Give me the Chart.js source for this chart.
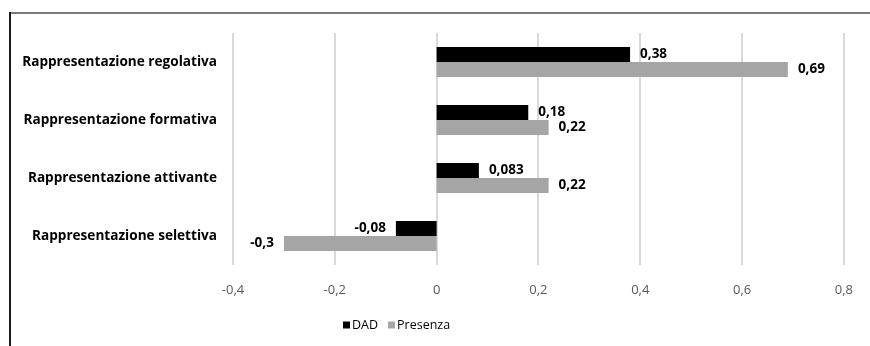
<!DOCTYPE html>
<html>
<head>
<meta charset="utf-8">
<script src="https://cdn.jsdelivr.net/npm/chart.js@4.4.1/dist/chart.umd.min.js"></script>
<style>
  html, body { margin: 0; padding: 0; background: #fff; }
  #wrap { position: relative; width: 870px; height: 346px; }
</style>
</head>
<body>
<div id="wrap"><canvas id="c" width="870" height="346"></canvas></div>
<script>
const categories = [
  'Rappresentazione regolativa',
  'Rappresentazione formativa',
  'Rappresentazione attivante',
  'Rappresentazione selettiva'
];
const dadValues = [0.38, 0.18, 0.083, -0.08];
const presenzaValues = [0.69, 0.22, 0.22, -0.3];
const seriesNames = ['DAD', 'Presenza'];
const seriesColors = ['#000000', '#a5a5a5'];
const axisMin = -0.4, axisMax = 0.8, axisStep = 0.2;

const FONT = '"Open Sans", Lato, sans-serif';
const fmt = v => String(Math.round(v * 1000) / 1000).replace('.', ',');

// Thin frame along the top and left edges of the canvas
const framePlugin = {
  id: 'frame',
  beforeDraw(chart) {
    const ctx = chart.ctx;
    ctx.save();
    ctx.lineWidth = 2;
    ctx.strokeStyle = '#7a7a7a';
    ctx.beginPath();
    ctx.moveTo(9, 13);
    ctx.lineTo(chart.width, 13);
    ctx.stroke();
    ctx.strokeStyle = '#1a1a1a';
    ctx.beginPath();
    ctx.moveTo(10, 12);
    ctx.lineTo(10, chart.height);
    ctx.stroke();
    ctx.restore();
  }
};

// Value labels at the end of each bar
const valueLabels = {
  id: 'valueLabels',
  afterDatasetsDraw(chart) {
    const ctx = chart.ctx;
    ctx.save();
    ctx.font = 'bold 13.5px ' + FONT;
    ctx.fillStyle = '#000';
    ctx.textBaseline = 'middle';
    chart.data.datasets.forEach((ds, di) => {
      const meta = chart.getDatasetMeta(di);
      meta.data.forEach((bar, i) => {
        const v = ds.data[i];
        const txt = fmt(v);
        if (v >= 0) {
          ctx.textAlign = 'left';
          ctx.fillText(txt, bar.x + 10, bar.y);
        } else {
          ctx.textAlign = 'right';
          ctx.fillText(txt, bar.x - 10, bar.y);
        }
      });
    });
    ctx.restore();
  }
};

// Compact legend below the axis
const legendPlugin = {
  id: 'smallLegend',
  afterDraw(chart) {
    const ctx = chart.ctx;
    ctx.save();
    ctx.font = '12.5px ' + FONT;
    ctx.textBaseline = 'middle';
    ctx.textAlign = 'left';
    const y = 325;
    let x = 343;
    chart.data.datasets.forEach((ds) => {
      ctx.fillStyle = ds.backgroundColor;
      ctx.fillRect(x, y - 3.5, 7, 7);
      x += 9;
      ctx.fillStyle = '#000';
      ctx.fillText(ds.label, x, y);
      x += ctx.measureText(ds.label).width + 10;
    });
    ctx.restore();
  }
};

new Chart(document.getElementById('c'), {
  type: 'bar',
  data: {
    labels: categories,
    datasets: [
      { label: seriesNames[0], data: dadValues, backgroundColor: seriesColors[0] },
      { label: seriesNames[1], data: presenzaValues, backgroundColor: seriesColors[1] }
    ]
  },
  options: {
    indexAxis: 'y',
    responsive: false,
    animation: false,
    datasets: { bar: { categoryPercentage: 0.52, barPercentage: 1.0 } },
    layout: { padding: { top: 33, right: 23, bottom: 38, left: 0 } },
    plugins: {
      legend: { display: false },
      tooltip: { enabled: false }
    },
    scales: {
      x: {
        min: axisMin, max: axisMax,
        afterFit(s) { s.height = 43; },
        ticks: {
          stepSize: axisStep,
          padding: 17,
          color: '#595959',
          font: { family: FONT, size: 13 },
          callback: v => fmt(v)
        },
        grid: { color: '#d9d9d9', lineWidth: 2, drawTicks: false },
        border: { display: false }
      },
      y: {
        afterFit(s) { s.width = 233; },
        ticks: {
          padding: 16,
          color: '#000',
          font: { family: FONT, size: 13.6, weight: 'bold' }
        },
        grid: { display: false, drawTicks: false },
        border: { display: false }
      }
    }
  },
  plugins: [framePlugin, valueLabels, legendPlugin]
});
</script>
</body>
</html>
